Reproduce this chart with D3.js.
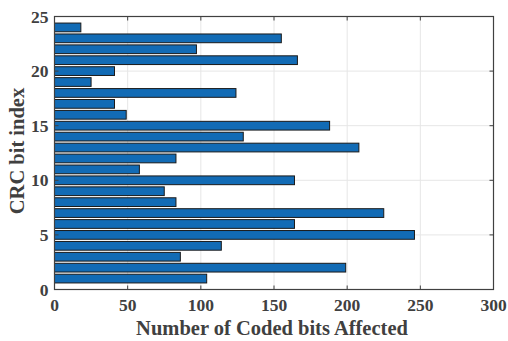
<!DOCTYPE html>
<html lang="en">
<head>
<meta charset="UTF-8">
<title>CRC bits</title>
<style>
  body { margin: 0; background: #fff; }
  svg { display: block; }
  text { font-family: "Liberation Serif", "Times New Roman", serif; font-weight: bold; fill: #404040; }
</style>
</head>
<body>
<svg width="508" height="341"></svg>
<script src="https://d3js.org/d3.v7.min.js"></script>
<script>
// CRC bit index 1..24 and coded bits affected
const bitIndex = d3.range(1, 25);
const affected = [104, 199, 86, 114, 246, 164, 225, 83, 75, 164, 58, 83,
                  208, 129, 188, 49, 41, 124, 25, 41, 166, 97, 155, 18];
const xTicks = [0, 50, 100, 150, 200, 250, 300];
const yTicks = [0, 5, 10, 15, 20, 25];

const svg = d3.select("svg");
const m = { left: 54.5, right: 493.5, top: 16.5, bottom: 289.5 };

const x = d3.scaleLinear().domain([0, 300]).range([m.left, m.right]);
const y = d3.scaleLinear().domain([0, 25]).range([m.bottom, m.top]);

// grid
svg.append("g").selectAll("line").data(xTicks.slice(1, -1)).join("line")
  .attr("x1", d => x(d)).attr("x2", d => x(d))
  .attr("y1", m.top).attr("y2", m.bottom)
  .attr("stroke", "#e6e6e6").attr("stroke-width", 1);
svg.append("g").selectAll("line").data(yTicks.slice(1, -1)).join("line")
  .attr("y1", d => y(d)).attr("y2", d => y(d))
  .attr("x1", m.left).attr("x2", m.right)
  .attr("stroke", "#e6e6e6").attr("stroke-width", 1);

// bars
const bh = (y(0) - y(0.8));
svg.append("g").selectAll("rect").data(bitIndex).join("rect")
  .attr("x", x(0))
  .attr("y", (d) => y(d) - bh / 2)
  .attr("width", (d, i) => x(affected[i]) - x(0))
  .attr("height", bh)
  .attr("fill", "#126bb5")
  .attr("stroke", "#1a1a1a")
  .attr("stroke-width", 1);

// box
svg.append("rect")
  .attr("x", m.left).attr("y", m.top)
  .attr("width", m.right - m.left).attr("height", m.bottom - m.top)
  .attr("fill", "none").attr("stroke", "#404040").attr("stroke-width", 1.2);

// inward ticks on all sides
const tl = 4;
const tk = svg.append("g").attr("stroke", "#404040").attr("stroke-width", 1);
xTicks.forEach(t => {
  tk.append("line").attr("x1", x(t)).attr("x2", x(t)).attr("y1", m.bottom).attr("y2", m.bottom - tl);
  tk.append("line").attr("x1", x(t)).attr("x2", x(t)).attr("y1", m.top).attr("y2", m.top + tl);
});
yTicks.forEach(t => {
  tk.append("line").attr("y1", y(t)).attr("y2", y(t)).attr("x1", m.left).attr("x2", m.left + tl);
  tk.append("line").attr("y1", y(t)).attr("y2", y(t)).attr("x1", m.right).attr("x2", m.right - tl);
});

// tick labels
svg.append("g").selectAll("text").data(xTicks).join("text")
  .attr("x", d => x(d)).attr("y", 311)
  .attr("text-anchor", "middle").attr("font-size", 17.5)
  .text(d => d);
svg.append("g").selectAll("text").data(yTicks).join("text")
  .attr("x", m.left - 6).attr("y", d => y(d) + 6)
  .attr("text-anchor", "end").attr("font-size", 17.5)
  .text(d => d);

// axis labels
svg.append("text")
  .attr("x", 272).attr("y", 335)
  .attr("text-anchor", "middle").attr("font-size", 20.5)
  .text("Number of Coded bits Affected");
svg.append("text")
  .attr("transform", `translate(24,151) rotate(-90)`)
  .attr("text-anchor", "middle").attr("font-size", 20.5)
  .text("CRC bit index");
</script>
</body>
</html>
